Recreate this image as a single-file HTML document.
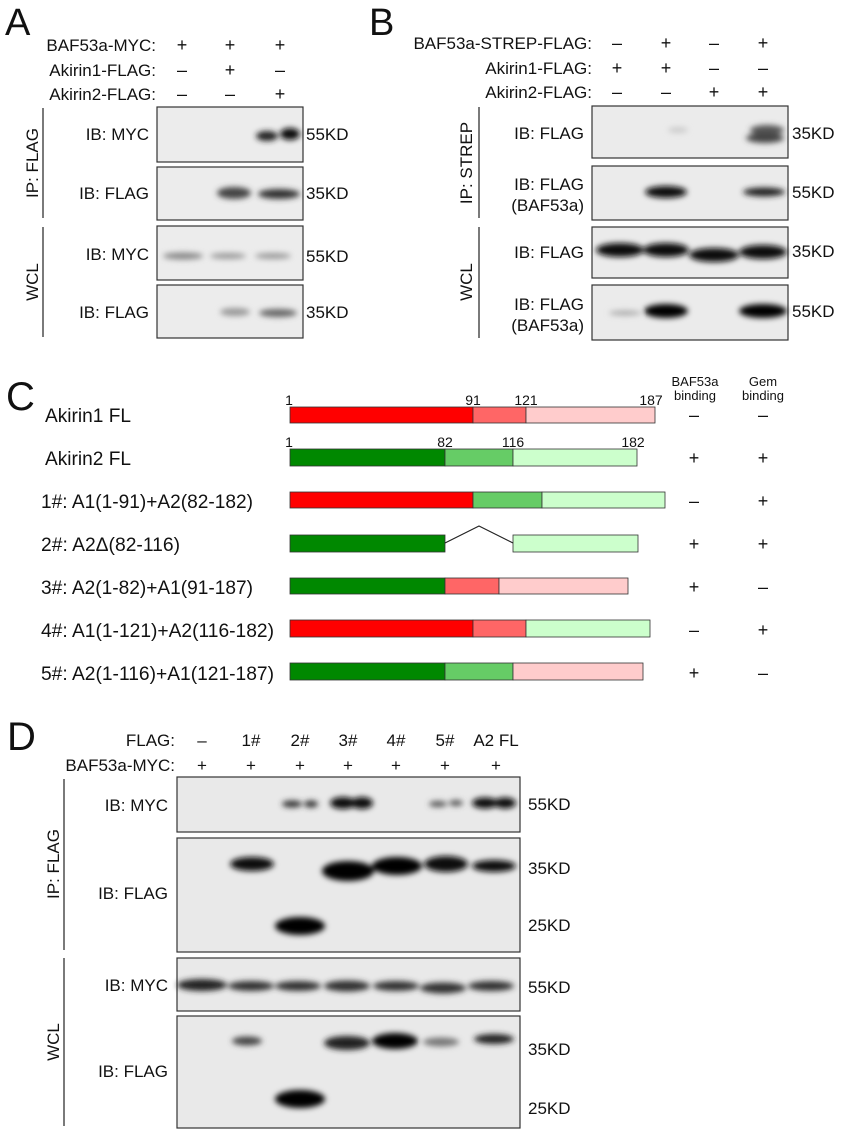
<!DOCTYPE html>
<html><head><meta charset="utf-8"><style>
html,body{margin:0;padding:0;background:#fff}
svg{display:block}
text{font-family:"Liberation Sans",Arial,sans-serif;fill:#111}
</style></head><body>
<svg width="855" height="1131" viewBox="0 0 855 1131" xmlns="http://www.w3.org/2000/svg">
<defs>
<filter id="b" x="-50%" y="-100%" width="200%" height="300%"><feGaussianBlur stdDeviation="3"/></filter>
</defs>

<!-- Panel A -->
<text x="5" y="35" font-size="38">A</text>
<g font-size="17">
<text x="156" y="51" text-anchor="end">BAF53a-MYC:</text>
<text x="156" y="76" text-anchor="end">Akirin1-FLAG:</text>
<text x="156" y="100" text-anchor="end">Akirin2-FLAG:</text>
</g>
<g font-size="18" text-anchor="middle">
<text x="182" y="51">+</text><text x="230" y="51">+</text><text x="280" y="51">+</text>
<text x="182" y="76">–</text><text x="230" y="76">+</text><text x="280" y="76">–</text>
<text x="182" y="100">–</text><text x="230" y="100">–</text><text x="280" y="100">+</text>
</g>
<g fill="#ececec" stroke="#333" stroke-width="1.2">
<rect x="157" y="107" width="146" height="55"/>
<rect x="157" y="167" width="146" height="53"/>
<rect x="157" y="226" width="146" height="54"/>
<rect x="157" y="285" width="146" height="53"/>
</g>
<g filter="url(#b)">
<ellipse cx="267" cy="136" rx="11" ry="5" fill="#222"/><ellipse cx="290" cy="134" rx="10" ry="6" fill="#111"/>
<ellipse cx="234" cy="193" rx="17" ry="6" fill="#444"/><ellipse cx="279" cy="194" rx="21" ry="5" fill="#333"/>
<ellipse cx="183" cy="256" rx="20" ry="3.5" fill="#888"/><ellipse cx="228" cy="256" rx="18" ry="3" fill="#999"/><ellipse cx="273" cy="256" rx="18" ry="3" fill="#999"/>
<ellipse cx="235" cy="312" rx="15" ry="4" fill="#999"/><ellipse cx="278" cy="313" rx="19" ry="4" fill="#666"/>
</g>
<g font-size="17">
<text x="149" y="140" text-anchor="end">IB: MYC</text>
<text x="149" y="199" text-anchor="end">IB: FLAG</text>
<text x="149" y="260" text-anchor="end">IB: MYC</text>
<text x="149" y="318" text-anchor="end">IB: FLAG</text>
<text x="306" y="140">55KD</text><text x="306" y="199">35KD</text>
<text x="306" y="262">55KD</text><text x="306" y="318">35KD</text>
</g>
<line x1="43" y1="108" x2="43" y2="218" stroke="#333" stroke-width="1.3"/>
<line x1="43" y1="227" x2="43" y2="337" stroke="#333" stroke-width="1.3"/>
<text transform="translate(38,163) rotate(-90)" font-size="17" text-anchor="middle">IP: FLAG</text>
<text transform="translate(38,282) rotate(-90)" font-size="17" text-anchor="middle">WCL</text>

<!-- Panel B -->
<text x="369" y="35" font-size="38">B</text>
<g font-size="17">
<text x="592" y="49" text-anchor="end">BAF53a-STREP-FLAG:</text>
<text x="592" y="74" text-anchor="end">Akirin1-FLAG:</text>
<text x="592" y="98" text-anchor="end">Akirin2-FLAG:</text>
</g>
<g font-size="18" text-anchor="middle">
<text x="617" y="49">–</text><text x="666" y="49">+</text><text x="714" y="49">–</text><text x="763" y="49">+</text>
<text x="617" y="74">+</text><text x="666" y="74">+</text><text x="714" y="74">–</text><text x="763" y="74">–</text>
<text x="617" y="98">–</text><text x="666" y="98">–</text><text x="714" y="98">+</text><text x="763" y="98">+</text>
</g>
<g fill="#ebebeb" stroke="#333" stroke-width="1.2">
<rect x="592" y="106" width="196" height="52"/>
<rect x="592" y="166" width="196" height="54"/>
<rect x="592" y="227" width="196" height="51"/>
<rect x="592" y="285" width="196" height="55"/>
</g>
<g filter="url(#b)">
<ellipse cx="678" cy="130" rx="10" ry="3" fill="#ccc"/>
<ellipse cx="767" cy="130" rx="17" ry="5" fill="#555"/><ellipse cx="765" cy="138" rx="19" ry="5" fill="#444"/>
<ellipse cx="666" cy="192" rx="21" ry="6" fill="#111"/><ellipse cx="764" cy="192" rx="21" ry="4.5" fill="#222"/>
<ellipse cx="620" cy="250" rx="24" ry="7" fill="#111"/><ellipse cx="666" cy="250" rx="23" ry="7" fill="#111"/>
<ellipse cx="714" cy="255" rx="25" ry="7" fill="#111"/><ellipse cx="763" cy="252" rx="24" ry="7" fill="#111"/>
<ellipse cx="625" cy="313" rx="16" ry="2.5" fill="#aaa"/><ellipse cx="666" cy="311" rx="22" ry="7" fill="#000"/>
<ellipse cx="763" cy="311" rx="24" ry="7" fill="#000"/>
</g>
<g font-size="17">
<text x="584" y="139" text-anchor="end">IB: FLAG</text>
<text x="584" y="190" text-anchor="end">IB: FLAG</text>
<text x="584" y="211" text-anchor="end">(BAF53a)</text>
<text x="584" y="258" text-anchor="end">IB: FLAG</text>
<text x="584" y="310" text-anchor="end">IB: FLAG</text>
<text x="584" y="331" text-anchor="end">(BAF53a)</text>
<text x="792" y="139">35KD</text><text x="792" y="198">55KD</text>
<text x="792" y="257">35KD</text><text x="792" y="317">55KD</text>
</g>
<line x1="479" y1="107" x2="479" y2="218" stroke="#333" stroke-width="1.3"/>
<line x1="479" y1="227" x2="479" y2="338" stroke="#333" stroke-width="1.3"/>
<text transform="translate(472,163) rotate(-90)" font-size="17" text-anchor="middle">IP: STREP</text>
<text transform="translate(472,282) rotate(-90)" font-size="17" text-anchor="middle">WCL</text>

<!-- Panel C -->
<text x="6" y="410" font-size="40">C</text>
<g font-size="13" text-anchor="middle" fill="#222">
<text x="695" y="386">BAF53a</text><text x="695" y="400">binding</text>
<text x="763" y="386">Gem</text><text x="763" y="400">binding</text>
</g>
<g font-size="14">
<text x="289" y="405" text-anchor="middle">1</text><text x="473" y="405" text-anchor="middle">91</text>
<text x="526" y="405" text-anchor="middle">121</text><text x="651" y="405" text-anchor="middle">187</text>
<text x="289" y="447" text-anchor="middle">1</text><text x="445" y="447" text-anchor="middle">82</text>
<text x="513" y="447" text-anchor="middle">116</text><text x="633" y="447" text-anchor="middle">182</text>
</g>
<g stroke="#333" stroke-width="0.8">
<rect x="290" y="407" width="183" height="16" fill="#ff0000"/>
<rect x="473" y="407" width="53" height="16" fill="#ff6666"/>
<rect x="526" y="407" width="129" height="16" fill="#ffcccc"/>

<rect x="290" y="449" width="155" height="17" fill="#008800"/>
<rect x="445" y="449" width="68" height="17" fill="#66cc66"/>
<rect x="513" y="449" width="124" height="17" fill="#ccffcc"/>

<rect x="290" y="492" width="183" height="16" fill="#ff0000"/>
<rect x="473" y="492" width="69" height="16" fill="#66cc66"/>
<rect x="542" y="492" width="123" height="16" fill="#ccffcc"/>

<rect x="290" y="535" width="155" height="17" fill="#008800"/>
<rect x="513" y="535" width="125" height="17" fill="#ccffcc"/>

<rect x="290" y="578" width="155" height="16" fill="#008800"/>
<rect x="445" y="578" width="54" height="16" fill="#ff6666"/>
<rect x="499" y="578" width="129" height="16" fill="#ffcccc"/>

<rect x="290" y="620" width="183" height="17" fill="#ff0000"/>
<rect x="473" y="620" width="53" height="17" fill="#ff6666"/>
<rect x="526" y="620" width="124" height="17" fill="#ccffcc"/>

<rect x="290" y="663" width="155" height="17" fill="#008800"/>
<rect x="445" y="663" width="68" height="17" fill="#66cc66"/>
<rect x="513" y="663" width="130" height="17" fill="#ffcccc"/>
</g>
<polyline points="445,543 479,526 513,543" fill="none" stroke="#222" stroke-width="1.2"/>
<g font-size="19">
<text x="45" y="422" textLength="86" lengthAdjust="spacingAndGlyphs">Akirin1 FL</text>
<text x="45" y="465" textLength="86" lengthAdjust="spacingAndGlyphs">Akirin2 FL</text>
<text x="41" y="508" textLength="212" lengthAdjust="spacingAndGlyphs">1#: A1(1-91)+A2(82-182)</text>
<text x="41" y="551" textLength="139" lengthAdjust="spacingAndGlyphs">2#: A2Δ(82-116)</text>
<text x="41" y="594" textLength="212" lengthAdjust="spacingAndGlyphs">3#: A2(1-82)+A1(91-187)</text>
<text x="41" y="637" textLength="233" lengthAdjust="spacingAndGlyphs">4#: A1(1-121)+A2(116-182)</text>
<text x="41" y="680" textLength="233" lengthAdjust="spacingAndGlyphs">5#: A2(1-116)+A1(121-187)</text>
</g>
<g font-size="18" text-anchor="middle">
<text x="694" y="421">–</text><text x="763" y="421">–</text>
<text x="694" y="464">+</text><text x="763" y="464">+</text>
<text x="694" y="507">–</text><text x="763" y="507">+</text>
<text x="694" y="550">+</text><text x="763" y="550">+</text>
<text x="694" y="593">+</text><text x="763" y="593">–</text>
<text x="694" y="636">–</text><text x="763" y="636">+</text>
<text x="694" y="679">+</text><text x="763" y="679">–</text>
</g>

<!-- Panel D -->
<text x="7" y="750" font-size="40">D</text>
<g font-size="17">
<text x="175" y="746" text-anchor="end">FLAG:</text>
<text x="175" y="771" text-anchor="end">BAF53a-MYC:</text>
</g>
<g font-size="17" text-anchor="middle">
<text x="202" y="746">–</text><text x="251" y="746">1#</text><text x="300" y="746">2#</text>
<text x="348" y="746">3#</text><text x="396" y="746">4#</text><text x="445" y="746">5#</text><text x="496" y="746">A2 FL</text>
<text x="202" y="771">+</text><text x="251" y="771">+</text><text x="300" y="771">+</text>
<text x="348" y="771">+</text><text x="396" y="771">+</text><text x="445" y="771">+</text><text x="496" y="771">+</text>
</g>
<g fill="#e9e9e9" stroke="#333" stroke-width="1.2">
<rect x="177" y="777" width="343" height="55"/>
<rect x="177" y="838" width="343" height="114"/>
<rect x="177" y="958" width="343" height="53"/>
<rect x="177" y="1016" width="343" height="112"/>
</g>
<g filter="url(#b)">
<ellipse cx="292" cy="804" rx="10" ry="3.5" fill="#333"/><ellipse cx="311" cy="804" rx="7" ry="3.5" fill="#333"/>
<ellipse cx="343" cy="803" rx="13" ry="6" fill="#111"/><ellipse cx="362" cy="803" rx="11" ry="6" fill="#111"/>
<ellipse cx="438" cy="804" rx="9" ry="3" fill="#555"/><ellipse cx="456" cy="803" rx="7" ry="3" fill="#555"/>
<ellipse cx="485" cy="803" rx="13" ry="5.5" fill="#111"/><ellipse cx="505" cy="803" rx="11" ry="5.5" fill="#111"/>
<ellipse cx="252" cy="864" rx="22" ry="7" fill="#111"/>
<ellipse cx="348" cy="871" rx="26" ry="10" fill="#000"/>
<ellipse cx="397" cy="866" rx="25" ry="9" fill="#000"/>
<ellipse cx="446" cy="864" rx="22" ry="8" fill="#111"/>
<ellipse cx="494" cy="866" rx="22" ry="6" fill="#111"/>
<ellipse cx="300" cy="926" rx="25" ry="9" fill="#000"/>
<ellipse cx="202" cy="985" rx="25" ry="6" fill="#222"/><ellipse cx="251" cy="986" rx="23" ry="5" fill="#333"/>
<ellipse cx="298" cy="986" rx="23" ry="5" fill="#333"/><ellipse cx="347" cy="986" rx="23" ry="5.5" fill="#333"/>
<ellipse cx="396" cy="986" rx="23" ry="5" fill="#333"/><ellipse cx="443" cy="988" rx="23" ry="5.5" fill="#333"/>
<ellipse cx="491" cy="986" rx="23" ry="5" fill="#333"/>
<ellipse cx="247" cy="1041" rx="15" ry="4.5" fill="#444"/>
<ellipse cx="347" cy="1043" rx="23" ry="7" fill="#222"/>
<ellipse cx="395" cy="1041" rx="23" ry="8" fill="#000"/>
<ellipse cx="441" cy="1042" rx="18" ry="4.5" fill="#777"/>
<ellipse cx="494" cy="1039" rx="20" ry="5" fill="#222"/>
<ellipse cx="300" cy="1099" rx="25" ry="9" fill="#000"/>
</g>
<g font-size="17">
<text x="168" y="811" text-anchor="end">IB: MYC</text>
<text x="168" y="899" text-anchor="end">IB: FLAG</text>
<text x="168" y="991" text-anchor="end">IB: MYC</text>
<text x="168" y="1077" text-anchor="end">IB: FLAG</text>
<text x="528" y="810">55KD</text><text x="528" y="874">35KD</text><text x="528" y="931">25KD</text>
<text x="528" y="993">55KD</text><text x="528" y="1055">35KD</text><text x="528" y="1114">25KD</text>
</g>
<line x1="64" y1="779" x2="64" y2="950" stroke="#333" stroke-width="1.3"/>
<line x1="64" y1="958" x2="64" y2="1126" stroke="#333" stroke-width="1.3"/>
<text transform="translate(59,864) rotate(-90)" font-size="17" text-anchor="middle">IP: FLAG</text>
<text transform="translate(59,1042) rotate(-90)" font-size="17" text-anchor="middle">WCL</text>
</svg>
</body></html>
